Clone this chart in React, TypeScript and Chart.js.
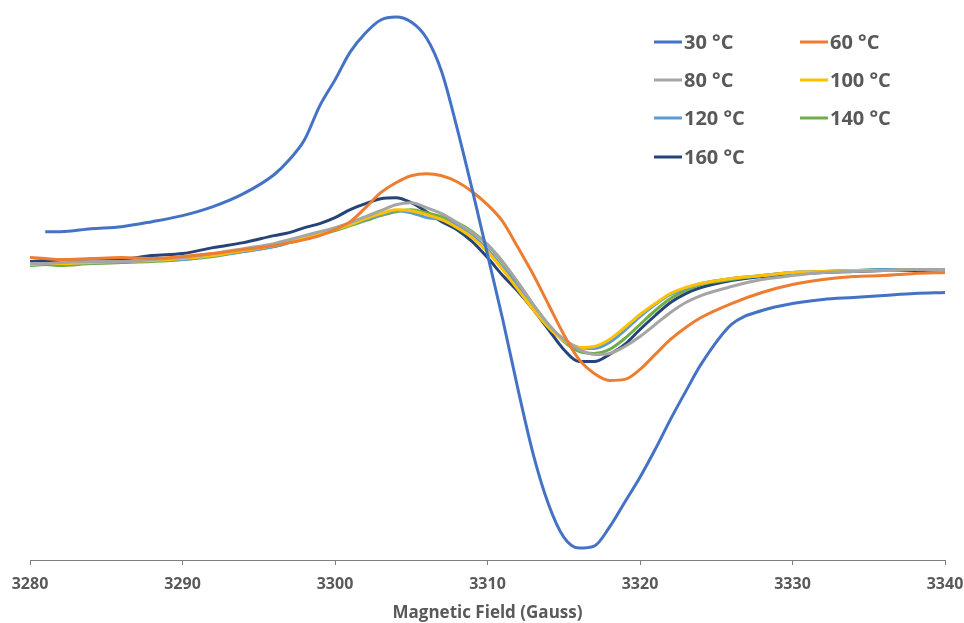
import React, { useEffect, useRef } from "react";
import { Chart, registerables } from "chart.js";

Chart.register(...registerables);

// Magnetic field (Gauss)
const fields = [
  3280, 3281, 3282, 3284, 3286, 3288, 3290, 3292, 3294, 3296,
  3297, 3298, 3299, 3300, 3301, 3302, 3303, 3304, 3305, 3306,
  3307, 3308, 3309, 3310, 3311, 3312, 3313, 3314, 3315, 3316,
  3317, 3318, 3319, 3320, 3321, 3322, 3323, 3324, 3326, 3328,
  3330, 3332, 3334, 3336, 3338, 3340,
];

// EPR signal (arbitrary units)
const s30 = [
  null, 33, 33, 36, 38, 43, 49, 58, 71, 90,
  105, 125, 159, 185, 213, 232, 245, 248, 243, 227,
  193, 137, 75, 10, -55, -125, -190, -240, -273, -284,
  -282, -263, -238, -213, -185, -155, -127, -100, -60, -46,
  -39, -35, -33, -31, -29, -28,
];
const s60 = [
  7, 6, 5, 6, 7, 6, 8, 11, 15, 19,
  22, 25, 29, 35, 43, 57, 72, 82, 89, 91,
  89, 83, 73, 60, 43, 17, -10, -40, -70, -95,
  -109, -116, -115, -105, -90, -75, -63, -53, -39, -28,
  -20, -15, -12, -11, -9, -8,
];
const s80 = [
  1, 1, 2, 3, 3, 5, 7, 11, 16, 21,
  25, 29, 33, 37, 42, 48, 54, 60, 62, 57,
  51, 42, 32, 20, 3, -18, -40, -60, -75, -85,
  -90, -89, -82, -72, -60, -48, -38, -31, -22, -15,
  -11, -8, -7, -6, -5, -5,
];
const s100 = [
  0, 1, 1, 2, 3, 4, 6, 9, 14, 19,
  23, 27, 31, 35, 40, 46, 51, 55, 54, 50,
  45, 37, 27, 13, -5, -25, -45, -63, -76, -83,
  -82, -75, -63, -50, -39, -29, -23, -19, -14, -11,
  -8, -7, -6, -6, -5, -5,
];
const s120 = [
  0, 1, 0, 2, 3, 4, 5, 9, 13, 18,
  22, 26, 31, 35, 40, 45, 50, 54, 52, 47,
  45, 39, 29, 15, -3, -22, -43, -61, -75, -83,
  -84, -78, -66, -52, -40, -30, -24, -19, -14, -11,
  -8, -7, -6, -5, -5, -5,
];
const s140 = [
  -1, 0, -1, 1, 2, 3, 5, 8, 13, 18,
  22, 26, 30, 34, 39, 44, 49, 53, 55, 52,
  48, 42, 33, 20, 2, -18, -40, -60, -77, -87,
  -89, -85, -74, -60, -46, -34, -26, -20, -15, -11,
  -8, -7, -6, -5, -5, -5,
];
const s160 = [
  3, 4, 3, 4, 5, 9, 11, 17, 22, 29,
  32, 37, 41, 47, 55, 61, 66, 67, 62, 53,
  43, 35, 23, 7, -11, -27, -45, -65, -85, -97,
  -97, -90, -80, -65, -51, -38, -29, -23, -16, -12,
  -10, -8, -7, -6, -6, -5,
];

const labels = ["30 °C", "60 °C", "80 °C", "100 °C", "120 °C", "140 °C", "160 °C"];
const seriesList = [s30, s60, s80, s100, s120, s140, s160];
const colors = ["#4472C4", "#ED7D31", "#A5A5A5", "#FFC000", "#5B9BD5", "#70AD47", "#264478"];

const xTicks = [3280, 3290, 3300, 3310, 3320, 3330, 3340];

const FONT = "'Open Sans', 'DejaVu Sans', sans-serif";
const TEXT = "#595959";

const insideLegend = {
  id: "insideLegend",
  afterDraw(chart: any) {
    const ctx = chart.ctx;
    const colX = [654, 800];
    const rowY = [42, 80, 118, 157];
    ctx.save();
    ctx.font = `bold 20px ${FONT}`;
    ctx.textBaseline = "middle";
    ctx.textAlign = "left";
    chart.data.datasets.forEach((ds: any, i: number) => {
      const x = colX[i % 2];
      const y = rowY[Math.floor(i / 2)];
      ctx.strokeStyle = ds.borderColor;
      ctx.lineWidth = 3;
      ctx.beginPath();
      ctx.moveTo(x, y);
      ctx.lineTo(x + 28, y);
      ctx.stroke();
      ctx.fillStyle = TEXT;
      ctx.fillText(ds.label, x + 30, y + 1);
    });
    ctx.restore();
  },
};

export default function App() {
  const canvasRef = useRef<HTMLCanvasElement>(null);

  useEffect(() => {
    if (!canvasRef.current) return;
    const datasets = seriesList.map((s, i) => ({
      label: labels[i],
      data: fields.map((f, j) => ({ x: f, y: s[j] })),
      borderColor: colors[i],
      backgroundColor: colors[i],
      borderWidth: 3,
      pointRadius: 0,
      cubicInterpolationMode: "monotone" as const,
      spanGaps: false,
    }));
    const chart = new Chart(canvasRef.current, {
      type: "line",
      data: { datasets },
      options: {
        animation: false,
        responsive: true,
        maintainAspectRatio: false,
        layout: { padding: { left: 30, right: 19, top: 10, bottom: 0 } },
        plugins: {
          legend: { display: false },
          tooltip: { enabled: false },
        },
        scales: {
          x: {
            type: "linear",
            min: 3280,
            max: 3340,
            afterBuildTicks: (scale: any) => {
              scale.ticks = xTicks.map((v) => ({ value: v }));
            },
            afterFit: (scale: any) => {
              scale.paddingLeft = 0;
              scale.paddingRight = 0;
            },
            ticks: {
              color: TEXT,
              font: { family: FONT, size: 16, weight: "bold" },
              padding: 10,
              maxRotation: 0,
              autoSkip: false,
              callback: (v: any) => String(v),
            },
            grid: {
              display: true,
              drawOnChartArea: false,
              drawTicks: true,
              tickLength: 5,
              color: "#7f7f7f",
            },
            border: { display: true, color: "#7f7f7f", width: 1 },
            title: {
              display: true,
              text: "Magnetic Field (Gauss)",
              color: TEXT,
              font: { family: FONT, size: 17, weight: "bold", lineHeight: 1.1 },
              padding: { top: 0, bottom: 0 },
            },
          },
          y: {
            display: false,
            min: -296,
            max: 255,
          },
        },
      },
      plugins: [insideLegend],
    });
    return () => chart.destroy();
  }, []);

  return (
    <div style={{ position: "fixed", left: 0, top: 0, width: 964, height: 623, background: "#fff" }}>
      <canvas ref={canvasRef} />
    </div>
  );
}
